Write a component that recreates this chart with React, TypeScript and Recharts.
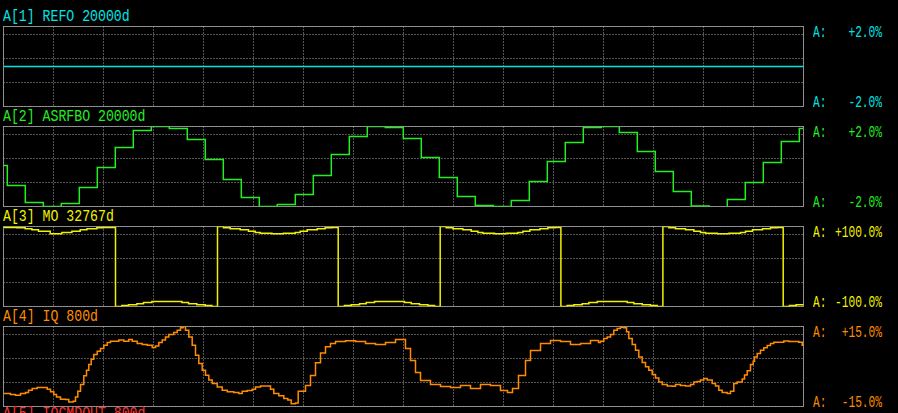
import React from "react"
import { LineChart, Line, XAxis, YAxis, CartesianGrid } from "recharts"

// time axis: 800 units across the plot box, grid every 50
const SPAN = 800
const GRID_X = [50, 100, 150, 200, 250, 300, 350, 400, 450, 500, 550, 600, 650, 700, 750]

// A[1] REFO (flat)
const refoTimes = [0, 800]
const refoValues = [0, 0]

// A[2] ASRFBO (%), one held value per 18-unit step
const asrfboStart = 0.05
const asrfboFirstStep = 3.8
const asrfboStepLen = 18
const asrfboValues = [
  -0.95, -1.8, -2.0, -1.85, -1.05, -0.05, 0.95, 1.8, 2.0, 1.9, 1.35, 0.35, -0.65, -1.55, -2.0,
  -1.9, -1.4, -0.45, 0.6, 1.5, 2.0, 1.95, 1.4, 0.45, -0.55, -1.5, -1.95, -2.0, -1.7, -0.75,
  0.25, 1.2, 1.95, 2.0, 1.7, 0.75, -0.25, -1.25, -1.97, -2.1, -1.65, -0.8, 0.2, 1.25, 1.9,
]

// A[3] MO (%)
const moTimes = [
  0, 13.4, 21.7, 28.4, 35, 46.7, 58.4, 68.4, 76.7, 83.4, 93.4, 100,
  112, 118.4, 125, 133.4, 140, 148.4, 178.4, 185, 193.4, 201.7, 208.4,
  214, 220, 226.7, 236.7, 245, 251.7, 256.7, 268.4, 280, 291.7, 296.7, 303.7, 313.7, 321.7, 328.7,
  334.7, 341, 347.7, 356, 362.7, 371, 401, 407.7, 416, 424.4, 431,
  436.7, 442.7, 449.4, 459.4, 467.7, 474.4, 479.4, 491, 502.7, 514.4, 519.4, 526.4, 536.4, 544.4, 551.4,
  557.4, 563.7, 570.4, 578.7, 585.4, 593.7, 623.7, 630.4, 638.7, 647, 653.7,
  659.4, 665.4, 672, 682, 690.4, 697, 702, 713.7, 725.4, 737, 742, 749, 759, 767, 774,
  779.7, 786, 792.7, 800,
]
const moValues = [
  97.5, 96.7, 94.2, 91.7, 88.3, 81.7, 85, 88.3, 91.7, 94.2, 96.7, 97.5,
  -100, -97.5, -95.8, -93.3, -90, -87.5, -90, -93.3, -95.8, -97.5, -100,
  100, 96.7, 94.2, 91.7, 88.3, 85, 83.3, 81.7, 83.3, 85, 88.3, 91.7, 94.2, 96.7, 97.5,
  -100, -97.5, -95.8, -93.3, -90, -87.5, -90, -93.3, -95.8, -97.5, -100,
  100, 96.7, 94.2, 91.7, 88.3, 85, 83.3, 81.7, 83.3, 85, 88.3, 91.7, 94.2, 96.7, 97.5,
  -100, -97.5, -95.8, -93.3, -90, -87.5, -90, -93.3, -95.8, -97.5, -100,
  100, 96.7, 94.2, 91.7, 88.3, 85, 83.3, 81.7, 83.3, 85, 88.3, 91.7, 94.2, 96.7, 97.5,
  -100, -97.5, -95.8, -95.8,
]

// A[4] IQ (%)
const iqTimes = [
  0, 7, 12, 17, 22, 25, 28.7, 33.7, 38.7, 43.7, 47, 50.3, 53, 57, 62, 65.3, 69.7, 72, 74.3, 77,
  80.3, 83, 85.3, 87.7, 90.3, 93.7, 97, 100.3, 103.7, 107, 112, 115.3, 120.3, 125.3, 128.7, 133.7,
  138.7, 143.7, 148.7, 152, 155.3, 158.7, 162, 165.3, 170.3, 173.7, 177, 179.7, 182, 185.3, 188.7,
  192, 195.3, 198.7, 202, 205.3, 208.7, 213.7, 218.7, 223.7, 230.3, 235.3, 238.7, 243.7, 248.7,
  252, 257, 262, 267, 270.3, 275.3, 280.3, 284.3, 287.7, 292, 294.7,
  302, 307, 312, 317, 322, 327, 332, 342, 352, 362, 372, 382, 392, 402, 407, 412, 417, 427, 437,
  447, 457, 467, 477, 487, 497, 504, 509, 515, 522, 527, 537, 547, 557, 567, 577, 587, 595,
  597, 600.3, 603.7, 607, 610.3, 613.7, 617, 620.3, 623, 625.3, 628.7, 632, 635.3, 638.7, 642,
  645.3, 648.7, 652, 655.3, 658.7, 663.7, 668.7, 672, 677, 682, 687, 690.3, 693.7, 697, 700.3,
  703.7, 708.7, 712, 715.3, 718.7, 723.7, 727, 730.3, 733.7, 738.7, 741, 743.7, 747, 749.7, 751,
  753.7, 757, 760.3, 763.7, 767, 770.3, 775.3, 780.3, 785.3, 790.3, 795.3, 798.7,
]
const iqValues = [
  -10.1, -10.5, -10.8, -10.1, -9.75, -8.9, -8.25, -7.9, -7.9, -8.5, -9.5, -10.5, -11.4, -12.3,
  -12.4, -13.3, -13, -11.4, -9.3, -6.75, -3.5, -1.4, 0.75, 2.7, 4.5, 5.7, 6.75, 8, 9, 9.5, 9.5,
  9.9, 9.5, 10.1, 9.5, 8.6, 8.25, 8, 7.1, 7.7, 9, 9.9, 11.1, 12, 12.75, 13.6, 14.5, 15, 13.6, 11.1,
  8, 4.2, 1.1, -1.4, -3.3, -5.1, -6.4, -7.65, -8.9, -9.5, -9.75, -10.1, -9.3, -9, -8.5, -7.65,
  -7.3, -7.3, -8.5, -10.1, -11, -12, -12.6, -14, -13.65, -9.3,
  -7.1, -3.4, 1.4, 5.1, 7.4, 8.6, 9.4, 9.7, 9.4, 8.6, 8.25, 9, 10.1, 6.75, 2.25, -2.25, -5.25,
  -6.75, -7.5, -7.9, -7.1, -8.25, -6.75, -7.1, -9, -9.75, -8.25, -3.4, 2.25, 6, 8.6, 9.75, 9.4,
  8.25, 8.6, 9.75, 9,
  9.5, 10.5, 11.1, 12, 13.6, 14.25, 14.75, 14.5, 13, 10.5, 8.25, 6.1, 3.6, 1.5, -0.1, -1.4, -3,
  -4.3, -5.8, -6.75, -7.3, -7.4, -6.75, -7.1, -7.3, -6.75, -5.8, -5.6, -5.1, -4.5, -5.1, -6.4,
  -7.3, -8.9, -9.75, -10.1, -9.3, -6.4, -5.8, -4.7, -3.2, -1.6, 0.75, 2, 3.6, 4.9, 6.1, 7, 7.9,
  8.6, 9.1, 9.1, 9.6, 9.4, 9.4, 9.1, 8,
]

type Pt = { t: number; v: number }

const zip = (ts: number[], vs: number[]): Pt[] => {
  const out = ts.map((t, i) => ({ t, v: vs[i] }))
  out.push({ t: SPAN, v: vs[vs.length - 1] })
  return out
}

const refoData = zip(refoTimes, refoValues)
const asrfboData = zip(
  [0, ...asrfboValues.map((_, i) => asrfboFirstStep + i * asrfboStepLen)],
  [asrfboStart, ...asrfboValues]
)
const moData = zip(moTimes, moValues)
const iqData = zip(iqTimes, iqValues)

const MONO = '"Liberation Mono", "DejaVu Sans Mono", monospace'

interface PanelProps {
  index: number
  title: string
  color: string
  data: Pt[]
  range: number
  topLabel: string
  bottomLabel: string
}

function Panel({ index, title, color, data, range, topLabel, bottomLabel }: PanelProps) {
  const yTicks = [1, 2, 3, 4, 5, 6, 7, 8, 9].map((k) => -range + (k * range) / 5)
  const label = (text: string, y: number) => (
    <>
      <div style={{ ...sideStyle, color, top: y, left: 813 }}>A:</div>
      <div style={{ ...sideStyle, color, top: y, right: 16, textAlign: "right" }}>{text}</div>
    </>
  )
  return (
    <div style={{ position: "absolute", left: 0, top: index * 100, width: 898, height: 108 }}>
      <div style={{ ...titleStyle, color }}>{title}</div>
      <div
        style={{
          position: "absolute",
          left: 3,
          top: 26,
          width: 801,
          height: 81,
          boxSizing: "border-box",
          border: "1px solid #808080",
        }}
      />
      {label(topLabel, 24)}
      {label(bottomLabel, 94)}
      <LineChart
        width={898}
        height={108}
        data={data}
        margin={{ top: 26.5, right: 94.5, bottom: 1.5, left: 3.5 }}
        style={{ position: "absolute", left: 0, top: 0 }}
      >
        <CartesianGrid stroke="#a8a8a8" strokeDasharray="1 2" />
        <XAxis type="number" dataKey="t" domain={[0, SPAN]} ticks={GRID_X} hide allowDataOverflow />
        <YAxis type="number" domain={[-range, range]} ticks={yTicks} hide allowDataOverflow />
        <Line
          type="stepAfter"
          dataKey="v"
          stroke={color}
          strokeWidth={1.5}
          dot={false}
          isAnimationActive={false}
        />
      </LineChart>
    </div>
  )
}

const titleStyle: React.CSSProperties = {
  position: "absolute",
  left: 3,
  top: 8,
  fontFamily: MONO,
  fontSize: 13.2,
  lineHeight: "14px",
  whiteSpace: "pre",
  transform: "scaleY(1.3)",
  transformOrigin: "0 0",
}

const sideStyle: React.CSSProperties = {
  position: "absolute",
  fontFamily: MONO,
  fontSize: 11.2,
  lineHeight: "12px",
  whiteSpace: "pre",
  transform: "scaleY(1.45)",
  transformOrigin: "0 0",
}

export default function App() {
  return (
    <div style={{ position: "relative", width: 898, height: 413, background: "#000", overflow: "hidden" }}>
      <style>{"html,body{margin:0;padding:0;background:#000}"}</style>
      <Panel index={0} title="A[1] REFO 20000d" color="#00e4e4" data={refoData} range={2} topLabel="+2.0%" bottomLabel="-2.0%" />
      <Panel index={1} title="A[2] ASRFBO 20000d" color="#22ee22" data={asrfboData} range={2} topLabel="+2.0%" bottomLabel="-2.0%" />
      <Panel index={2} title="A[3] MO 32767d" color="#f2f200" data={moData} range={100} topLabel="+100.0%" bottomLabel="-100.0%" />
      <Panel index={3} title="A[4] IQ 800d" color="#ff8c00" data={iqData} range={15} topLabel="+15.0%" bottomLabel="-15.0%" />
      <div style={{ ...titleStyle, top: 405, color: "#ff3030" }}>A[5] IQCMDOUT 800d</div>
    </div>
  )
}
